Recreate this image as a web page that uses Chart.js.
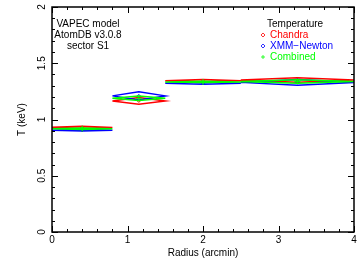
<!DOCTYPE html>
<html>
<head>
<meta charset="utf-8">
<script src="https://cdn.jsdelivr.net/npm/chart.js@4"></script>
<style>
  body { margin: 0; background: #fff; }
</style>
</head>
<body>
<canvas id="grafico" width="364" height="259"></canvas>
<script>
// Bins en radio (arcmin)
let binLo = [0, 0.8, 1.5, 2.5];
let binHi = [0.8, 1.5, 2.5, 4];
let binMid = [0.4, 1.15, 2.0, 3.25];

// Temperaturas (keV) y errores
let chandraT = [0.93, 1.165, 1.345, 1.352];
let chandraErr = [0.01, 0.03, 0.01, 0.02];
let xmmT = [0.905, 1.21, 1.322, 1.33];
let xmmErr = [0.008, 0.036, 0.008, 0.025];
let combT = [0.918, 1.188, 1.334, 1.338];
let combErr = [0.006, 0.02, 0.006, 0.015];

let xTicks = [0, 1, 2, 3, 4];
let yTicks = ["0", "0.5", "1", "1.5", "2"];
let notas = ["VAPEC model", "AtomDB v3.0.8", "sector S1"];
let series = ["Chandra", "XMM\u2212Newton", "Combined"];
let colores = ["#ff0000", "#0000ff", "#00ff00"];

function diamantes(vals, errs) {
    let pts = [];
    for (let i = 0; i < vals.length; i++) {
        pts.push({x: binLo[i], y: vals[i]});
        pts.push({x: binMid[i], y: vals[i] + errs[i]});
        pts.push({x: binHi[i], y: vals[i]});
        pts.push({x: binMid[i], y: vals[i] - errs[i]});
        pts.push({x: binLo[i], y: vals[i]});
        pts.push({x: binHi[i], y: null});
    }
    return pts;
}

function centros(vals) {
    return vals.map((v, i) => ({x: binMid[i], y: v}));
}

let fuente = "10px 'Liberation Sans', Arial, sans-serif";

// Marco, ticks hacia adentro, textos y leyenda
let marco = {
    id: "marco",
    afterDraw(chart) {
        let ctx = chart.ctx;
        let a = chart.chartArea;
        let sx = chart.scales.x, sy = chart.scales.y;
        ctx.save();
        ctx.strokeStyle = "#000";
        ctx.lineWidth = 1.5;
        ctx.strokeRect(a.left, a.top, a.right - a.left, a.bottom - a.top);
        ctx.lineWidth = 1;
        ctx.beginPath();
        for (let k = 0; k <= 20; k++) {
            let v = k * 0.2;
            let px = Math.round(sx.getPixelForValue(v)) + 0.5;
            let len = (k % 5 === 0) ? 6 : 3;
            ctx.moveTo(px, a.bottom); ctx.lineTo(px, a.bottom - len);
            ctx.moveTo(px, a.top); ctx.lineTo(px, a.top + len);
        }
        for (let k = 0; k <= 20; k++) {
            let v = k * 0.1;
            let py = Math.round(sy.getPixelForValue(v)) + 0.5;
            let len = (k % 5 === 0) ? 6 : 3;
            ctx.moveTo(a.left, py); ctx.lineTo(a.left + len, py);
            ctx.moveTo(a.right, py); ctx.lineTo(a.right - len, py);
        }
        ctx.stroke();

        ctx.fillStyle = "#000";
        ctx.font = fuente;
        ctx.textAlign = "center";
        ctx.textBaseline = "middle";
        xTicks.forEach(t => {
            ctx.fillText(String(t), sx.getPixelForValue(t), 240);
        });
        ctx.fillText("Radius (arcmin)", (a.left + a.right) / 2, 253);
        yTicks.forEach(t => {
            ctx.save();
            ctx.translate(42, sy.getPixelForValue(Number(t)));
            ctx.rotate(-Math.PI / 2);
            ctx.fillText(t, 0, 0);
            ctx.restore();
        });
        ctx.save();
        ctx.translate(22, (a.top + a.bottom) / 2);
        ctx.rotate(-Math.PI / 2);
        ctx.fillText("T (keV)", 0, 0);
        ctx.restore();

        notas.forEach((n, i) => ctx.fillText(n, 88, 24 + i * 11));

        ctx.textAlign = "left";
        ctx.fillText("Temperature", 267, 24);
        series.forEach((s, i) => {
            let y = 35 + i * 11;
            ctx.fillStyle = colores[i];
            ctx.fillText(s, 270, y);
            ctx.strokeStyle = colores[i];
            ctx.lineWidth = 0.8;
            ctx.beginPath();
            if (i < 2) {
                ctx.moveTo(263, y - 2); ctx.lineTo(265, y); ctx.lineTo(263, y + 2); ctx.lineTo(261, y); ctx.closePath();
            } else {
                ctx.moveTo(261, y); ctx.lineTo(265, y); ctx.moveTo(263, y - 2); ctx.lineTo(263, y + 2);
            }
            ctx.stroke();
        });
        ctx.restore();
    }
};

let lineas = [
    {vals: combT, errs: combErr, color: colores[2], punto: "cross", r: 3},
    {vals: xmmT, errs: xmmErr, color: colores[1], punto: "rectRot", r: 1.5},
    {vals: chandraT, errs: chandraErr, color: colores[0], punto: "rectRot", r: 1.5}
];

let datasets = [];
lineas.forEach((l, i) => {
    datasets.push({
        type: "scatter",
        data: centros(l.vals),
        borderColor: l.color,
        backgroundColor: "transparent",
        pointStyle: l.punto,
        pointRadius: l.r,
        borderWidth: 1,
        order: i * 2
    });
    datasets.push({
        type: "line",
        data: diamantes(l.vals, l.errs),
        borderColor: l.color,
        borderWidth: 1.5,
        pointRadius: 0,
        spanGaps: false,
        tension: 0,
        fill: false,
        order: i * 2 + 1
    });
});

let grafico = new Chart(document.getElementById("grafico").getContext("2d"), {
    type: "line",
    data: {datasets: datasets},
    options: {
        responsive: false,
        animation: false,
        parsing: true,
        layout: {padding: {left: 52, right: 10, top: 7, bottom: 27}},
        plugins: {legend: {display: false}, tooltip: {enabled: false}},
        scales: {
            x: {type: "linear", min: 0, max: 4, display: false},
            y: {type: "linear", min: 0, max: 2, display: false}
        }
    },
    plugins: [marco]
});
</script>
</body>
</html>
